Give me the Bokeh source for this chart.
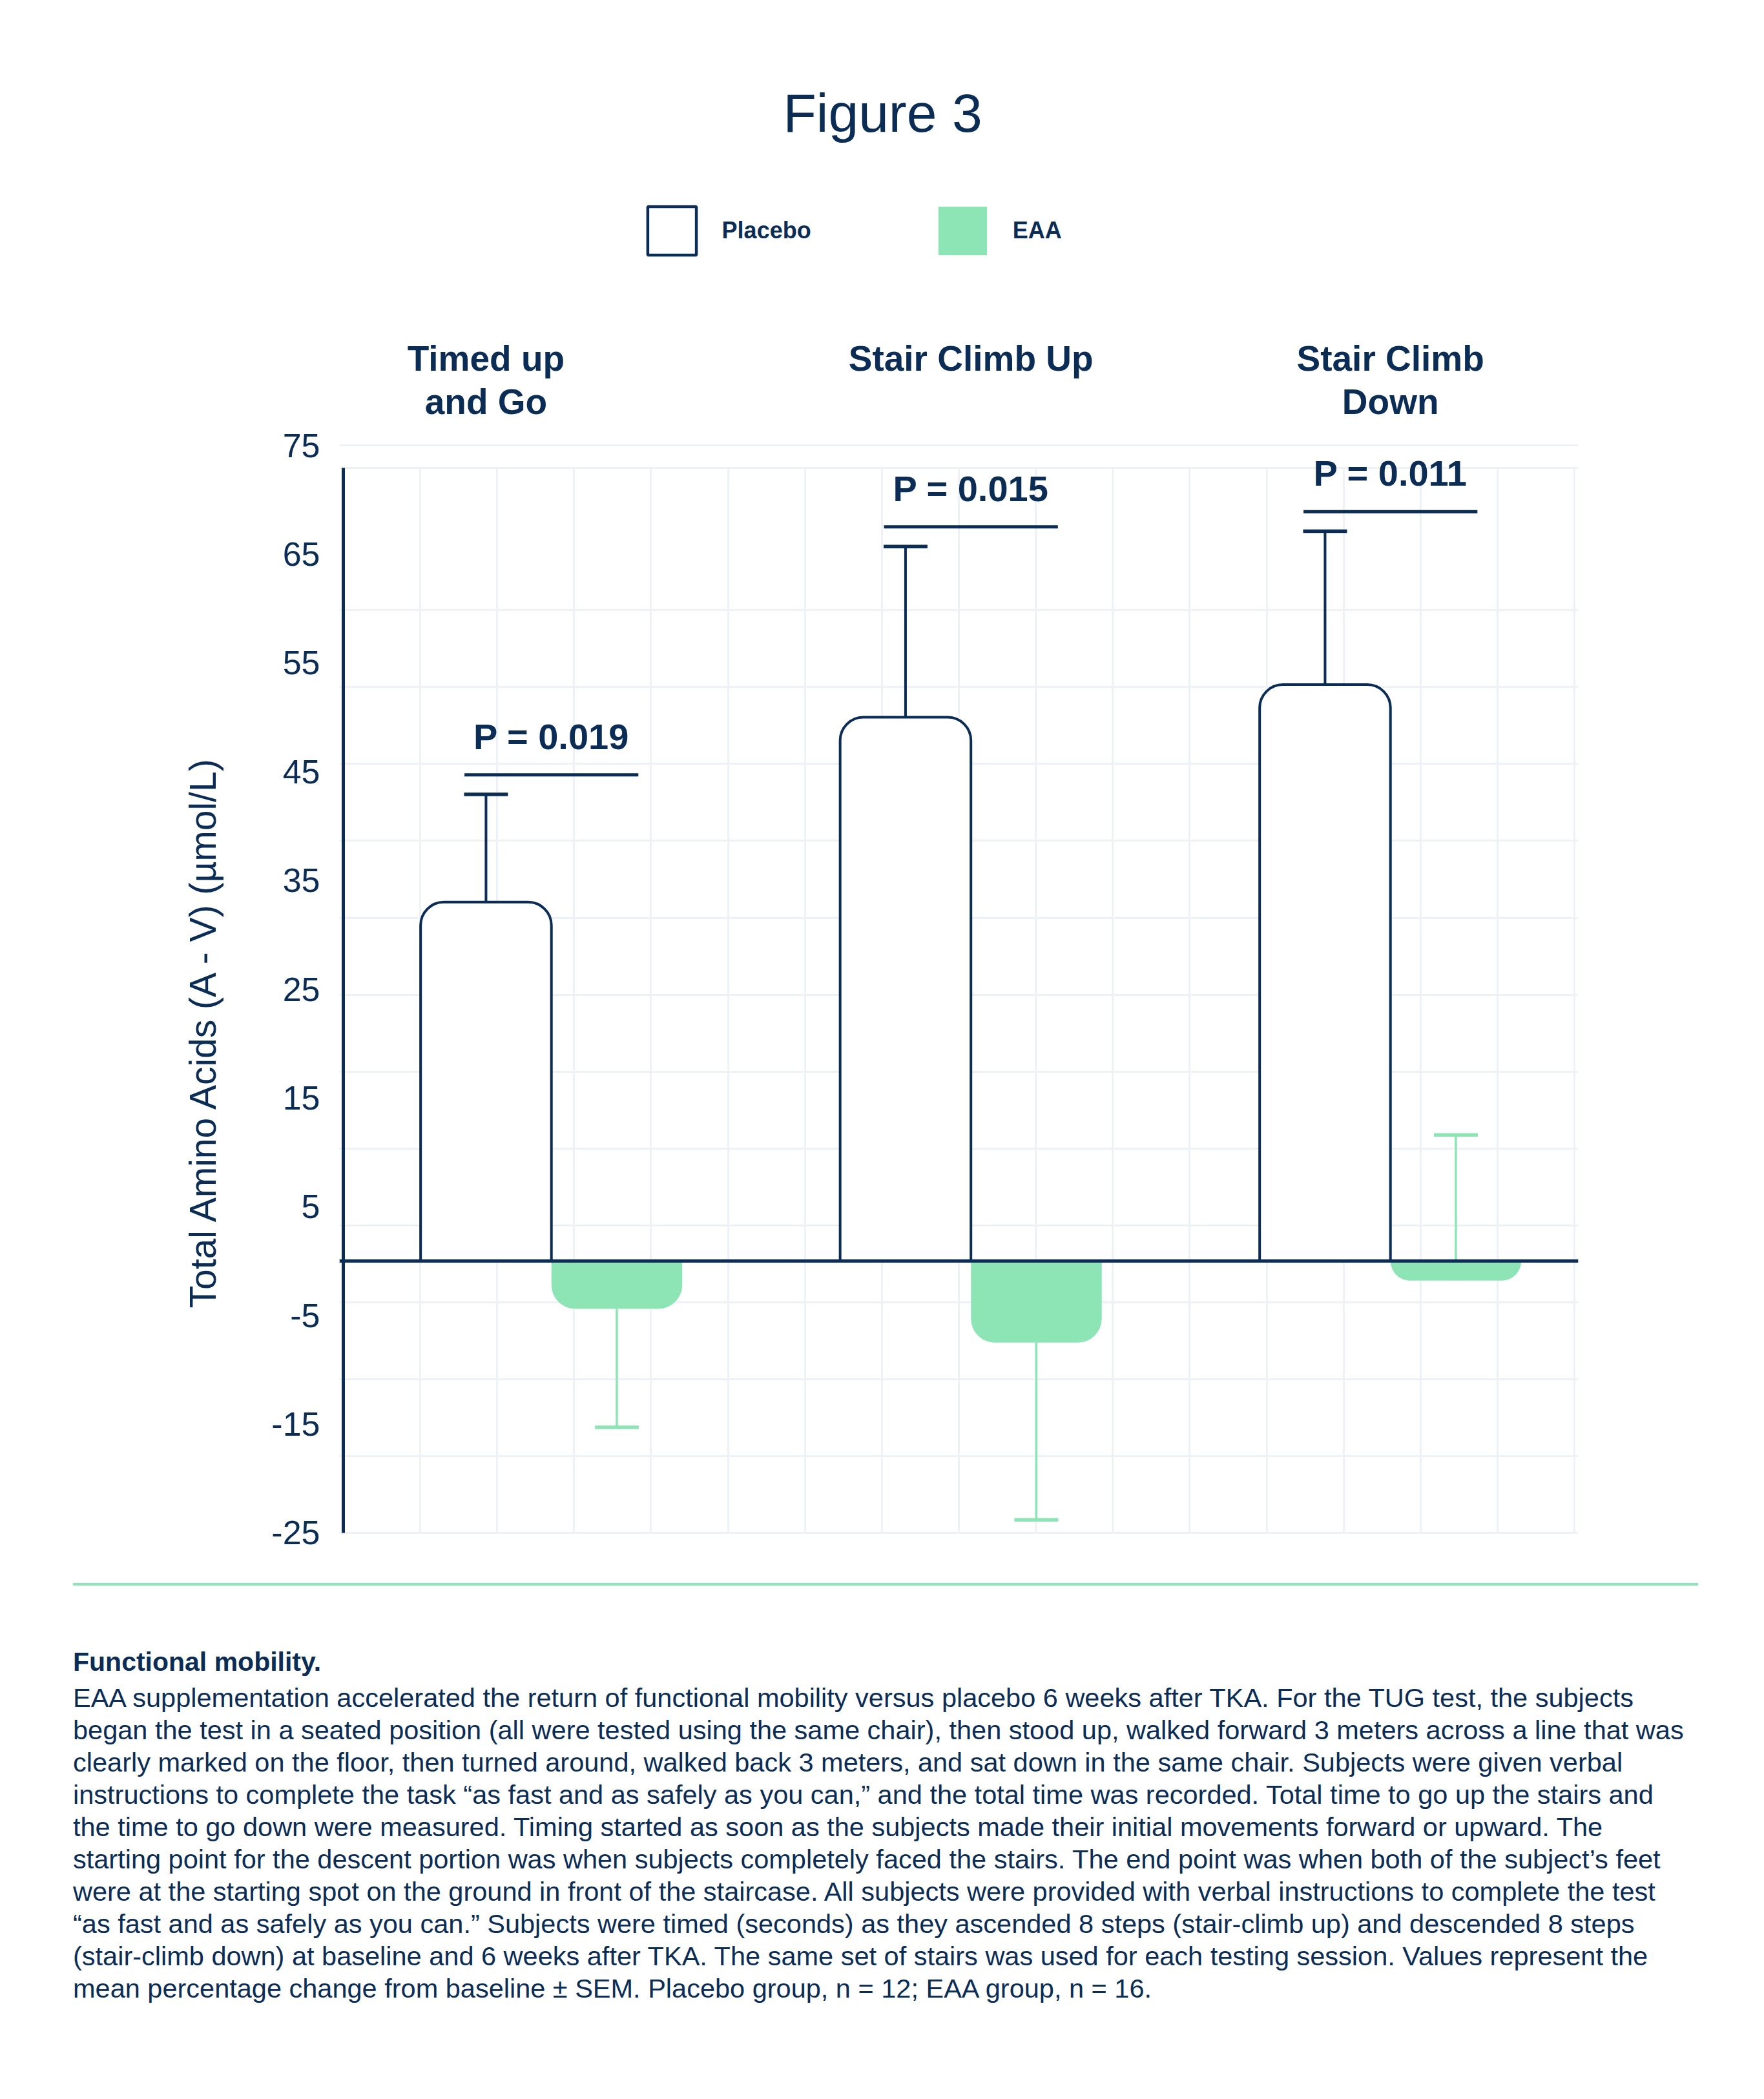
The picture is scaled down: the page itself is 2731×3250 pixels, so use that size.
import html
import numpy as np
from bokeh.plotting import figure
from bokeh.models import (Range1d, LinearAxis, FixedTicker, Grid, Span, Legend,
                          ColumnDataSource, Div, VBar)
from bokeh.layouts import column, row
from bokeh.embed import file_html
from bokeh.resources import INLINE
from bokeh.core.properties import value

# ---------------- data ----------------
title_text = "Figure 3"
categories = ["Timed up\nand Go", "Stair Climb Up", "Stair Climb\nDown"]
series = ["Placebo", "EAA"]
placebo = [33.0, 50.0, 53.0]
placebo_err_top = [42.9, 65.7, 67.1]
eaa = [-4.4, -7.5, -1.8]
eaa_err_end = [-15.3, -23.8, 11.6]
p_labels = ["P = 0.019", "P = 0.015", "P = 0.011"]
y_ticks = [-25, -15, -5, 5, 15, 25, 35, 45, 55, 65, 75]
y_label = "Total Amino Acids  (A - V) (\u00b5mol/L)"
caption_head = "Functional mobility."
caption_lines = [
    "EAA supplementation accelerated the return of functional mobility versus placebo 6 weeks after TKA. For the TUG test, the subjects",
    "began the test in a seated position (all were tested using the same chair), then stood up, walked forward 3 meters across a line that was",
    "clearly marked on the floor, then turned around, walked back 3 meters, and sat down in the same chair. Subjects were given verbal",
    "instructions to complete the task \u201cas fast and as safely as you can,\u201d and the total time was recorded. Total time to go up the stairs and",
    "the time to go down were measured. Timing started as soon as the subjects made their initial movements forward or upward. The",
    "starting point for the descent portion was when subjects completely faced the stairs. The end point was when both of the subject\u2019s feet",
    "were at the starting spot on the ground in front of the staircase. All subjects were provided with verbal instructions to complete the test",
    "\u201cas fast and as safely as you can.\u201d Subjects were timed (seconds) as they ascended 8 steps (stair-climb up) and descended 8 steps",
    "(stair-climb down) at baseline and 6 weeks after TKA. The same set of stairs was used for each testing session. Values represent the",
    "mean percentage change from baseline \u00b1 SEM. Placebo group, n = 12; EAA group, n = 16.",
]

# ---------------- style / layout ----------------
NAVY = "#0b2d55"
GREEN = "#8de4b5"
GRIDC = "#eef1f5"
FONT = "Liberation Sans"

PAGE_W = 2731
HDR_H = 655            # header figure (title, legend, category titles)
STRIP_W = 368          # strip with the rotated y-axis title
MAIN_H = 1791
FRAME_LEFT = 525       # page x of plot frame left edge
FRAME_RIGHT = 2443     # page x of plot frame right edge
MAIN_TOP_BORDER = 29
FRAME_H = 1694

first_group, group_step = 2.705, 5.452
bar_off, bar_w, cap_half, pline_half = 0.85, 1.7, 0.285, 1.13
label_shift = np.array([-bar_off, 0.0, 0.0])
px_per_x = 119.125
x_start = -0.05
x0_page = FRAME_LEFT - x_start * px_per_x   # page x of data x=0

n = len(categories)
group_x = first_group + group_step * np.arange(n)
placebo_x = group_x - bar_off
eaa_x = group_x + bar_off
p_level = np.array(placebo_err_top) + 1.8

src = ColumnDataSource(dict(
    cat=categories, tx=group_x + label_shift, gx=group_x,
    px=placebo_x, ex=eaa_x,
    placebo=placebo, ptop=placebo_err_top,
    pc0=placebo_x - cap_half, pc1=placebo_x + cap_half,
    eaa=eaa, eend=eaa_err_end,
    ec0=eaa_x - cap_half, ec1=eaa_x + cap_half,
    plev=p_level, pl0=group_x - pline_half, pl1=group_x + pline_half,
    plab=p_labels,
))

x_rng = Range1d(x_start, 16.05)

# ---------------- main chart ----------------
main_w = PAGE_W - STRIP_W
p = figure(width=main_w, height=MAIN_H, x_range=x_rng, y_range=Range1d(-25.3, 75.3),
           output_backend="svg", toolbar_location=None,
           x_axis_location=None, y_axis_location=None,
           min_border_left=FRAME_LEFT - STRIP_W, min_border_right=PAGE_W - FRAME_RIGHT,
           min_border_top=MAIN_TOP_BORDER, min_border_bottom=MAIN_H - MAIN_TOP_BORDER - FRAME_H,
           outline_line_color=None, background_fill_color="white", border_fill_color="white")
p.center = []

has_cross = "cross_bounds" in Grid.properties()

def make_grid(dim, ticks, color, width, cross=None):
    kw = dict(dimension=dim, ticker=FixedTicker(ticks=list(ticks)),
              grid_line_color=color, grid_line_width=width)
    kw["bounds"] = (-1, 17) if dim == 0 else (-26, 76)
    if cross is not None and has_cross:
        kw["cross_bounds"] = cross
    return Grid(**kw)

h_grid = [-25 + 7.07 * k for k in range(13)] + [72.9, 75]
p.add_layout(make_grid(1, h_grid, GRIDC, 3), "center")
p.add_layout(make_grid(0, range(1, 17), GRIDC, 3, cross=(-25, 72.9)), "center")
p.add_layout(make_grid(0, [0], NAVY, 5, cross=(-25, 72.9)), "center")

yaxis = LinearAxis(ticker=FixedTicker(ticks=y_ticks),
                   major_label_overrides={t: str(t) for t in y_ticks},
                   axis_line_color=None, major_tick_line_color=None, minor_tick_line_color=None,
                   major_tick_out=0, major_tick_in=0, major_label_standoff=30,
                   major_label_text_font=FONT, major_label_text_font_size="52px",
                   major_label_text_color=NAVY)
p.add_layout(yaxis, "left")

br = "border_radius" in VBar.properties()
kp = dict(border_radius=(36, 36, 0, 0)) if br else {}
ke = dict(border_radius=(0, 0, 37, 37)) if br else {}

p.segment(x0="px", y0="placebo", x1="px", y1="ptop", source=src, line_color=NAVY, line_width=4)
p.segment(x0="pc0", y0="ptop", x1="pc1", y1="ptop", source=src, line_color=NAVY, line_width=5.5)
p.segment(x0="ex", y0="eaa", x1="ex", y1="eend", source=src, line_color=GREEN, line_width=3.5)
p.segment(x0="ec0", y0="eend", x1="ec1", y1="eend", source=src, line_color=GREEN, line_width=5.5)

p.vbar(x="px", top="placebo", bottom=0, width=bar_w, source=src,
       fill_color="white", line_color=NAVY, line_width=4, **kp)
p.vbar(x="ex", top=0, bottom="eaa", width=bar_w, source=src,
       fill_color=GREEN, line_color=None, **ke)

p.segment(x0="pl0", y0="plev", x1="pl1", y1="plev", source=src, line_color=NAVY, line_width=5)
p.text(x="gx", y="plev", text="plab", source=src, text_font=value(FONT), text_font_style="bold",
       text_font_size="56px", text_color=NAVY, text_align="center", text_baseline="top",
       y_offset=-91)

p.add_layout(Span(location=0, dimension="width", line_color=NAVY, line_width=5))

# ---------------- strip with y-axis title ----------------
strip = figure(width=STRIP_W, height=MAIN_H, x_range=Range1d(0, STRIP_W), y_range=Range1d(0, MAIN_H),
               output_backend="svg", toolbar_location=None,
               x_axis_location=None, y_axis_location=None,
               min_border_left=0, min_border_right=0, min_border_top=0, min_border_bottom=0,
               outline_line_color=None, background_fill_color="white", border_fill_color="white")
strip.center = []
strip.text(x=[313], y=[(HDR_H + MAIN_H) - 1610], text=[y_label], angle=np.pi / 2,
           text_font=value(FONT), text_font_size="57px", text_color=NAVY,
           text_align="center", text_baseline="middle")

# ---------------- header: title, legend, category titles ----------------
hdr = figure(width=PAGE_W, height=HDR_H, x_range=x_rng, y_range=Range1d(0, HDR_H),
             output_backend="svg", toolbar_location=None,
             x_axis_location=None, y_axis_location=None,
             min_border_left=FRAME_LEFT, min_border_right=PAGE_W - FRAME_RIGHT,
             min_border_top=0, min_border_bottom=0,
             outline_line_color=None, background_fill_color="white", border_fill_color="white")
hdr.center = []
title_x = (1366 - x0_page) / px_per_x
hdr.text(x=[title_x], y=[HDR_H - 127], text=[title_text], text_font=value(FONT),
         text_font_size="84px", text_color=NAVY, text_align="center", text_baseline="top")
hdr.text(x="tx", y=HDR_H - 523, text="cat", source=src, text_font=value(FONT),
         text_font_style="bold", text_font_size="55px", text_color=NAVY, text_align="center",
         text_baseline="top", text_line_height=1.09)

# legend swatches: same bar styles as the chart, hidden renderers shown only in the legend
r_pl = hdr.vbar(x="px", top="placebo", bottom=0, width=bar_w, source=src,
                fill_color="white", line_color=NAVY, line_width=4.5, visible=False)
r_ea = hdr.vbar(x="ex", top=0, bottom="eaa", width=bar_w, source=src,
                fill_color=GREEN, line_color=None, visible=False)
legend = Legend(items=[(series[0], [r_pl]), (series[1], [r_ea])], orientation="horizontal",
                location=(992.6 - FRAME_LEFT, HDR_H - 404.4),
                glyph_width=94, glyph_height=94, label_standoff=31,
                spacing=187, padding=0, margin=0, border_line_color=None,
                background_fill_alpha=0, inactive_fill_alpha=0,
                label_text_font=FONT, label_text_font_style="bold",
                label_text_font_size="36px", label_text_color=NAVY)
hdr.add_layout(legend, "center")

# ---------------- caption ----------------
body = "<br>".join(html.escape(l) for l in caption_lines)
cap_html = (
    f'<div style="width:2516px;margin-left:108px;margin-top:0px;border-top:4px solid {GREEN};"></div>'
    f'<div style="margin-left:108px;margin-top:93px;font-family:\'Liberation Sans\';color:{NAVY};'
    f'font-size:41.5px;line-height:50px;white-space:nowrap;">'
    f'<div style="font-weight:bold;font-size:41px;margin-bottom:6px;">{html.escape(caption_head)}</div>'
    f'{body}</div>'
)
div = Div(text=cap_html, width=PAGE_W, height=780)

layout = column(hdr, row(strip, p), div)
open("out.html", "w").write(file_html(layout, INLINE))
